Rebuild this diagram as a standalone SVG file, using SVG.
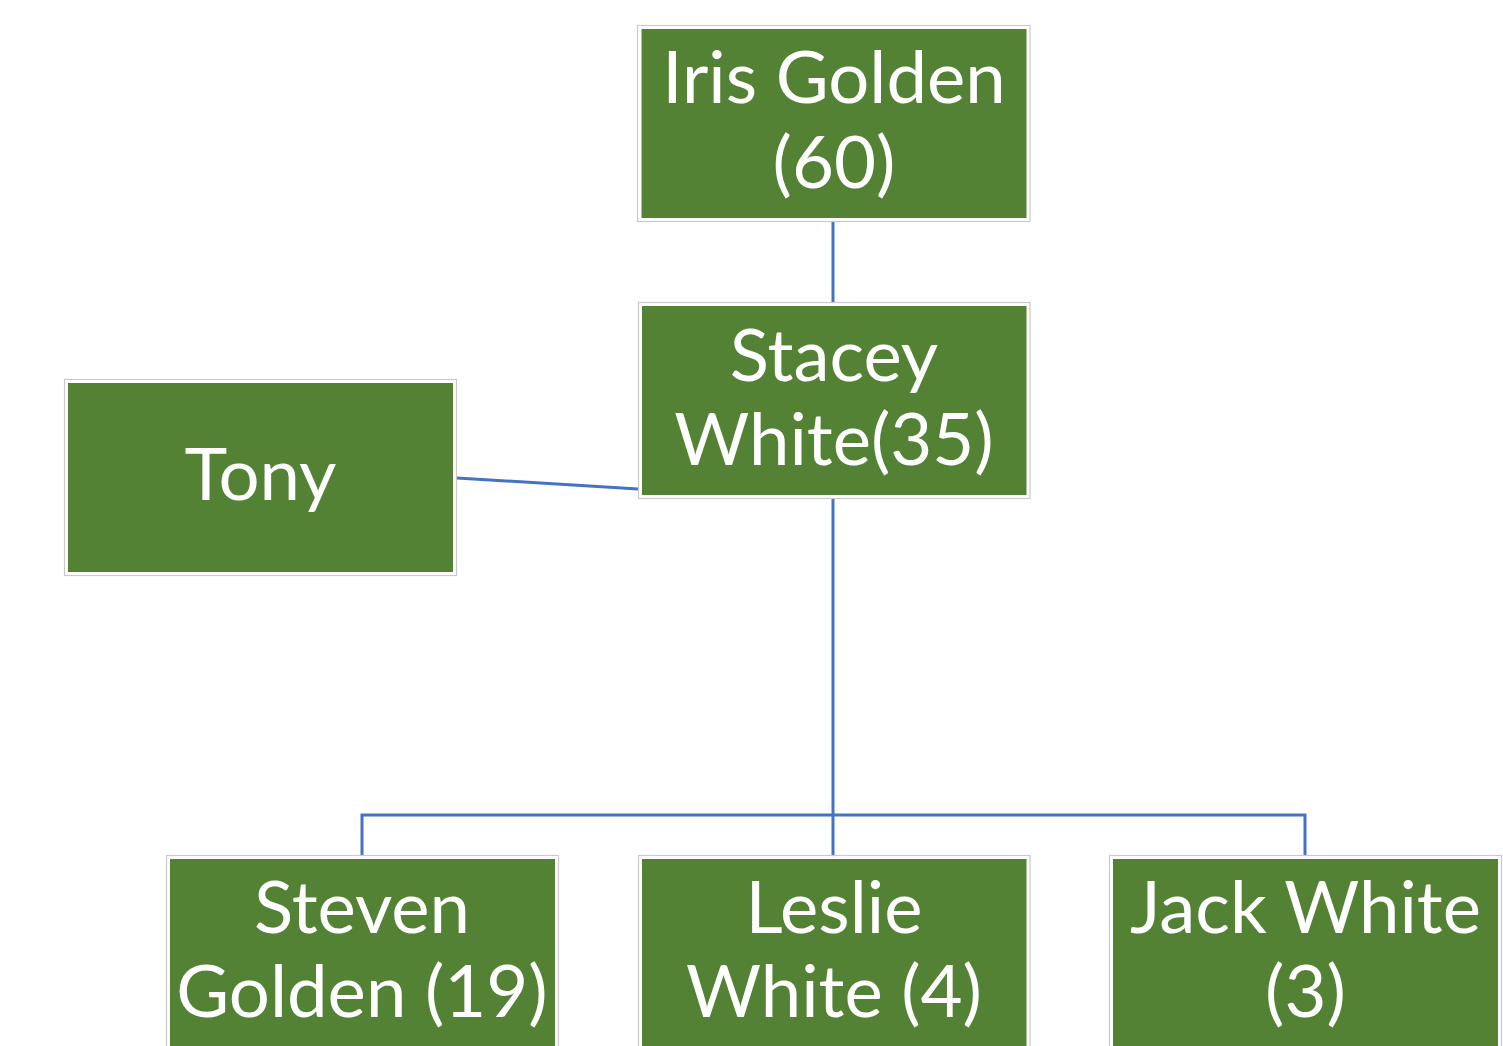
<svg xmlns="http://www.w3.org/2000/svg" width="1503" height="1046" viewBox="0 0 1503 1046">
<style>
.frame{fill:#ffffff;stroke:#c9c9c9;stroke-width:1.2}
.box{fill:#548235}
.lbl{font-family:Lato,"Open Sans",sans-serif;font-size:72.5px;fill:#ffffff;text-anchor:middle}
.conn{fill:none;stroke:#4472c4;stroke-width:3}
</style>
<rect width="1503" height="1046" fill="#ffffff"/>
<g id="connectors">
<line class="conn" x1="833" y1="222" x2="833" y2="302"/>
<line class="conn" x1="457" y1="478" x2="638" y2="489"/>
<line class="conn" x1="833" y1="499" x2="833" y2="855"/>
<polyline class="conn" points="362,855 362,815 1305,815 1305,855"/>
</g>
<g id="iris">
<rect class="frame" x="637.5" y="25.5" width="392.5" height="196"/>
<rect class="box" x="641.5" y="29" width="385" height="189"/>
<text class="lbl" x="834" y="103">Iris Golden</text>
<text class="lbl" x="834" y="188">(60)</text>
</g>
<g id="stacey">
<rect class="frame" x="638.5" y="302.5" width="391.5" height="196"/>
<rect class="box" x="642" y="306" width="384.5" height="189"/>
<text class="lbl" x="834" y="381">Stacey</text>
<text class="lbl" x="834" y="465">White(35)</text>
</g>
<g id="tony">
<rect class="frame" x="64.5" y="379.5" width="392" height="196"/>
<rect class="box" x="68" y="383" width="385" height="189"/>
<text class="lbl" x="260.5" y="500">Tony</text>
</g>
<g id="steven">
<rect class="frame" x="166.5" y="855.5" width="392" height="200"/>
<rect class="box" x="170" y="859" width="385" height="200"/>
<text class="lbl" x="362" y="933">Steven</text>
<text class="lbl" x="362" y="1017">Golden (19)</text>
</g>
<g id="leslie">
<rect class="frame" x="638.5" y="855.5" width="391.5" height="200"/>
<rect class="box" x="642" y="859" width="384.5" height="200"/>
<text class="lbl" x="834" y="933">Leslie</text>
<text class="lbl" x="834" y="1017">White (4)</text>
</g>
<g id="jack">
<rect class="frame" x="1109.5" y="855.5" width="392" height="200"/>
<rect class="box" x="1113" y="859" width="385" height="200"/>
<text class="lbl" x="1305.5" y="933">Jack White</text>
<text class="lbl" x="1305.5" y="1017">(3)</text>
</g>
</svg>
